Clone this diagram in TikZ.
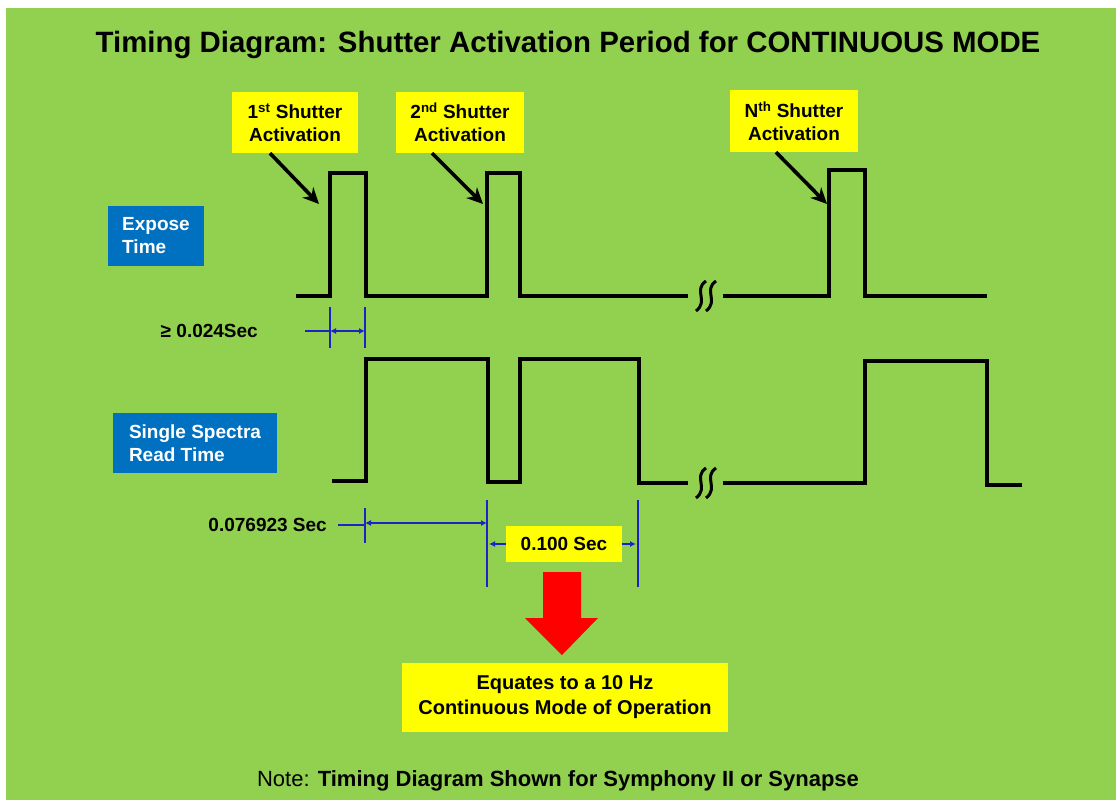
\documentclass[tikz,border=0pt]{standalone}
\usepackage{fontspec}
\setmainfont{Liberation Sans}
\usetikzlibrary{arrows.meta}
\definecolor{bggreen}{RGB}{146,208,80}
\definecolor{boxyellow}{RGB}{255,255,0}
\definecolor{boxblue}{RGB}{0,112,192}
\definecolor{dimblue}{RGB}{30,35,200}
\definecolor{arrowred}{RGB}{255,0,0}
\begin{document}
\begin{tikzpicture}[x=1pt,y=-1pt,
  ybox/.style={fill=boxyellow, inner sep=0pt, align=center, text=black,
    font=\fontsize{19}{23}\selectfont\bfseries},
  bbox/.style={fill=boxblue, inner sep=0pt, align=left, text=white,
    font=\fontsize{19}{23}\selectfont\bfseries},
  lbl/.style={inner sep=0pt, text=black, font=\fontsize{19}{23}\selectfont\bfseries},
  wave/.style={line width=4.2pt, black, line join=miter},
  brk/.style={line width=3pt, black},
  callout/.style={line width=3.6pt, black, -{Stealth[length=16pt,width=15pt,inset=5pt]}},
  dimline/.style={line width=2.2pt, dimblue},
  dimarrow/.style={line width=2.2pt, dimblue, {Latex[length=6pt,width=6pt]}-{Latex[length=6pt,width=6pt]}},
  dimhead/.style={line width=2.2pt, dimblue, -{Latex[length=6pt,width=6pt]}},
]
\useasboundingbox (0,0) rectangle (1116,800);
\fill[white] (0,0) rectangle (1116,800);
\fill[bggreen] (6,8) rectangle (1116,800);

% title
\node[inner sep=0pt, font=\fontsize{29.4}{34}\selectfont\bfseries] (title) at (568,45)
  {Timing Diagram: Shutter Activation Period for CONTINUOUS MODE};

% callout boxes
\node[ybox, minimum width=126pt, minimum height=61pt] (b1) at (295,122.5)
  {1\textsuperscript{st} Shutter\\Activation};
\node[ybox, minimum width=128pt, minimum height=61pt] (b2) at (460,122.5)
  {2\textsuperscript{nd} Shutter\\Activation};
\node[ybox, minimum width=128pt, minimum height=62pt] (b3) at (794,121)
  {N\textsuperscript{th} Shutter\\Activation};

\coordinate (t1) at (319,204);
\coordinate (t2) at (483,204);
\coordinate (t3) at (827,204);
\draw[callout] ([xshift=-25pt]b1.south) -- (t1);
\draw[callout] ([xshift=-28pt]b2.south) -- (t2);
\draw[callout] ([xshift=-18pt]b3.south) -- (t3);

% signal labels
\node[bbox, minimum width=96pt, minimum height=60pt] (expose) at (156,236) {Expose\\Time};
\node[bbox, minimum width=164pt, minimum height=60pt] (read) at (195,443) {Single Spectra\\Read Time};

% expose waveform
\draw[wave] (296,296) -- (330,296) -- (330,173) -- (366,173) -- (366,296) -- (487,296)
  -- (487,173) -- (520,173) -- (520,296) -- (688,296);
\draw[wave] (723,296) -- (829,296) -- (829,170) -- (865,170) -- (865,296) -- (987,296);

% read waveform
\draw[wave] (332,481) -- (366,481) -- (366,359) -- (488,359) -- (488,482) -- (520,482)
  -- (520,359) -- (639,359) -- (639,483) -- (688,483);
\draw[wave] (723,483) -- (865,483) -- (865,361) -- (987,361) -- (987,485) -- (1022,485);

% break marks
\foreach \bx/\by in {701/296, 711/296, 701/483, 711/483}{
  \draw[brk] (\bx+5,\by-15) .. controls (\bx-8,\by-6) and (\bx+8,\by+5) .. (\bx-5,\by+15);
}

% >= 0.024 Sec dimension
\node[lbl, anchor=east] (d1) at (258,331) {≥ 0.024Sec};
\coordinate (d1a) at (305,331);
\coordinate (d1b) at (330,331);
\coordinate (d1c) at (365,331);
\draw[dimline] (d1a) -- (d1b);
\draw[dimline] (330,307) -- (330,348);
\draw[dimline] (365,307) -- (365,348);
\draw[dimarrow] (d1b) -- (d1c);

% 0.076923 Sec dimension
\node[lbl, anchor=east] (d2) at (327,525) {0.076923 Sec};
\coordinate (d2a) at (338,525);
\coordinate (d2b) at (365,525);
\coordinate (d2c) at (487,523);
\draw[dimline] (d2a) -- (d2b);
\draw[dimline] (365,508) -- (365,543);
\draw[dimarrow] (365,523) -- (d2c);
\draw[dimline] (487,500) -- (487,587);
\draw[dimline] (638,500) -- (638,587);

% 0.100 Sec
\node[ybox, minimum width=116pt, minimum height=36pt] (d3) at (564,544) {0.100 Sec};
\coordinate (d3l) at (489,544);
\coordinate (d3r) at (636,544);
\draw[dimhead] (d3.west) -- (d3l);
\draw[dimhead] (d3.east) -- (d3r);

% red block arrow
\fill[arrowred] (543,572) -- (581,572) -- (581,618) -- (598,618) -- (562,655)
  -- (525,618) -- (543,618) -- cycle;

% result box
\node[ybox, minimum width=326pt, minimum height=69pt, font=\fontsize{20}{25}\selectfont\bfseries] (res) at (565,697.5)
  {Equates to a 10 Hz\\Continuous Mode of Operation};

% note
\node[inner sep=0pt, font=\fontsize{22}{26}\selectfont] (note) at (558,781)
  {Note: \textbf{Timing Diagram Shown for Symphony II or Synapse}};
\end{tikzpicture}
\end{document}
